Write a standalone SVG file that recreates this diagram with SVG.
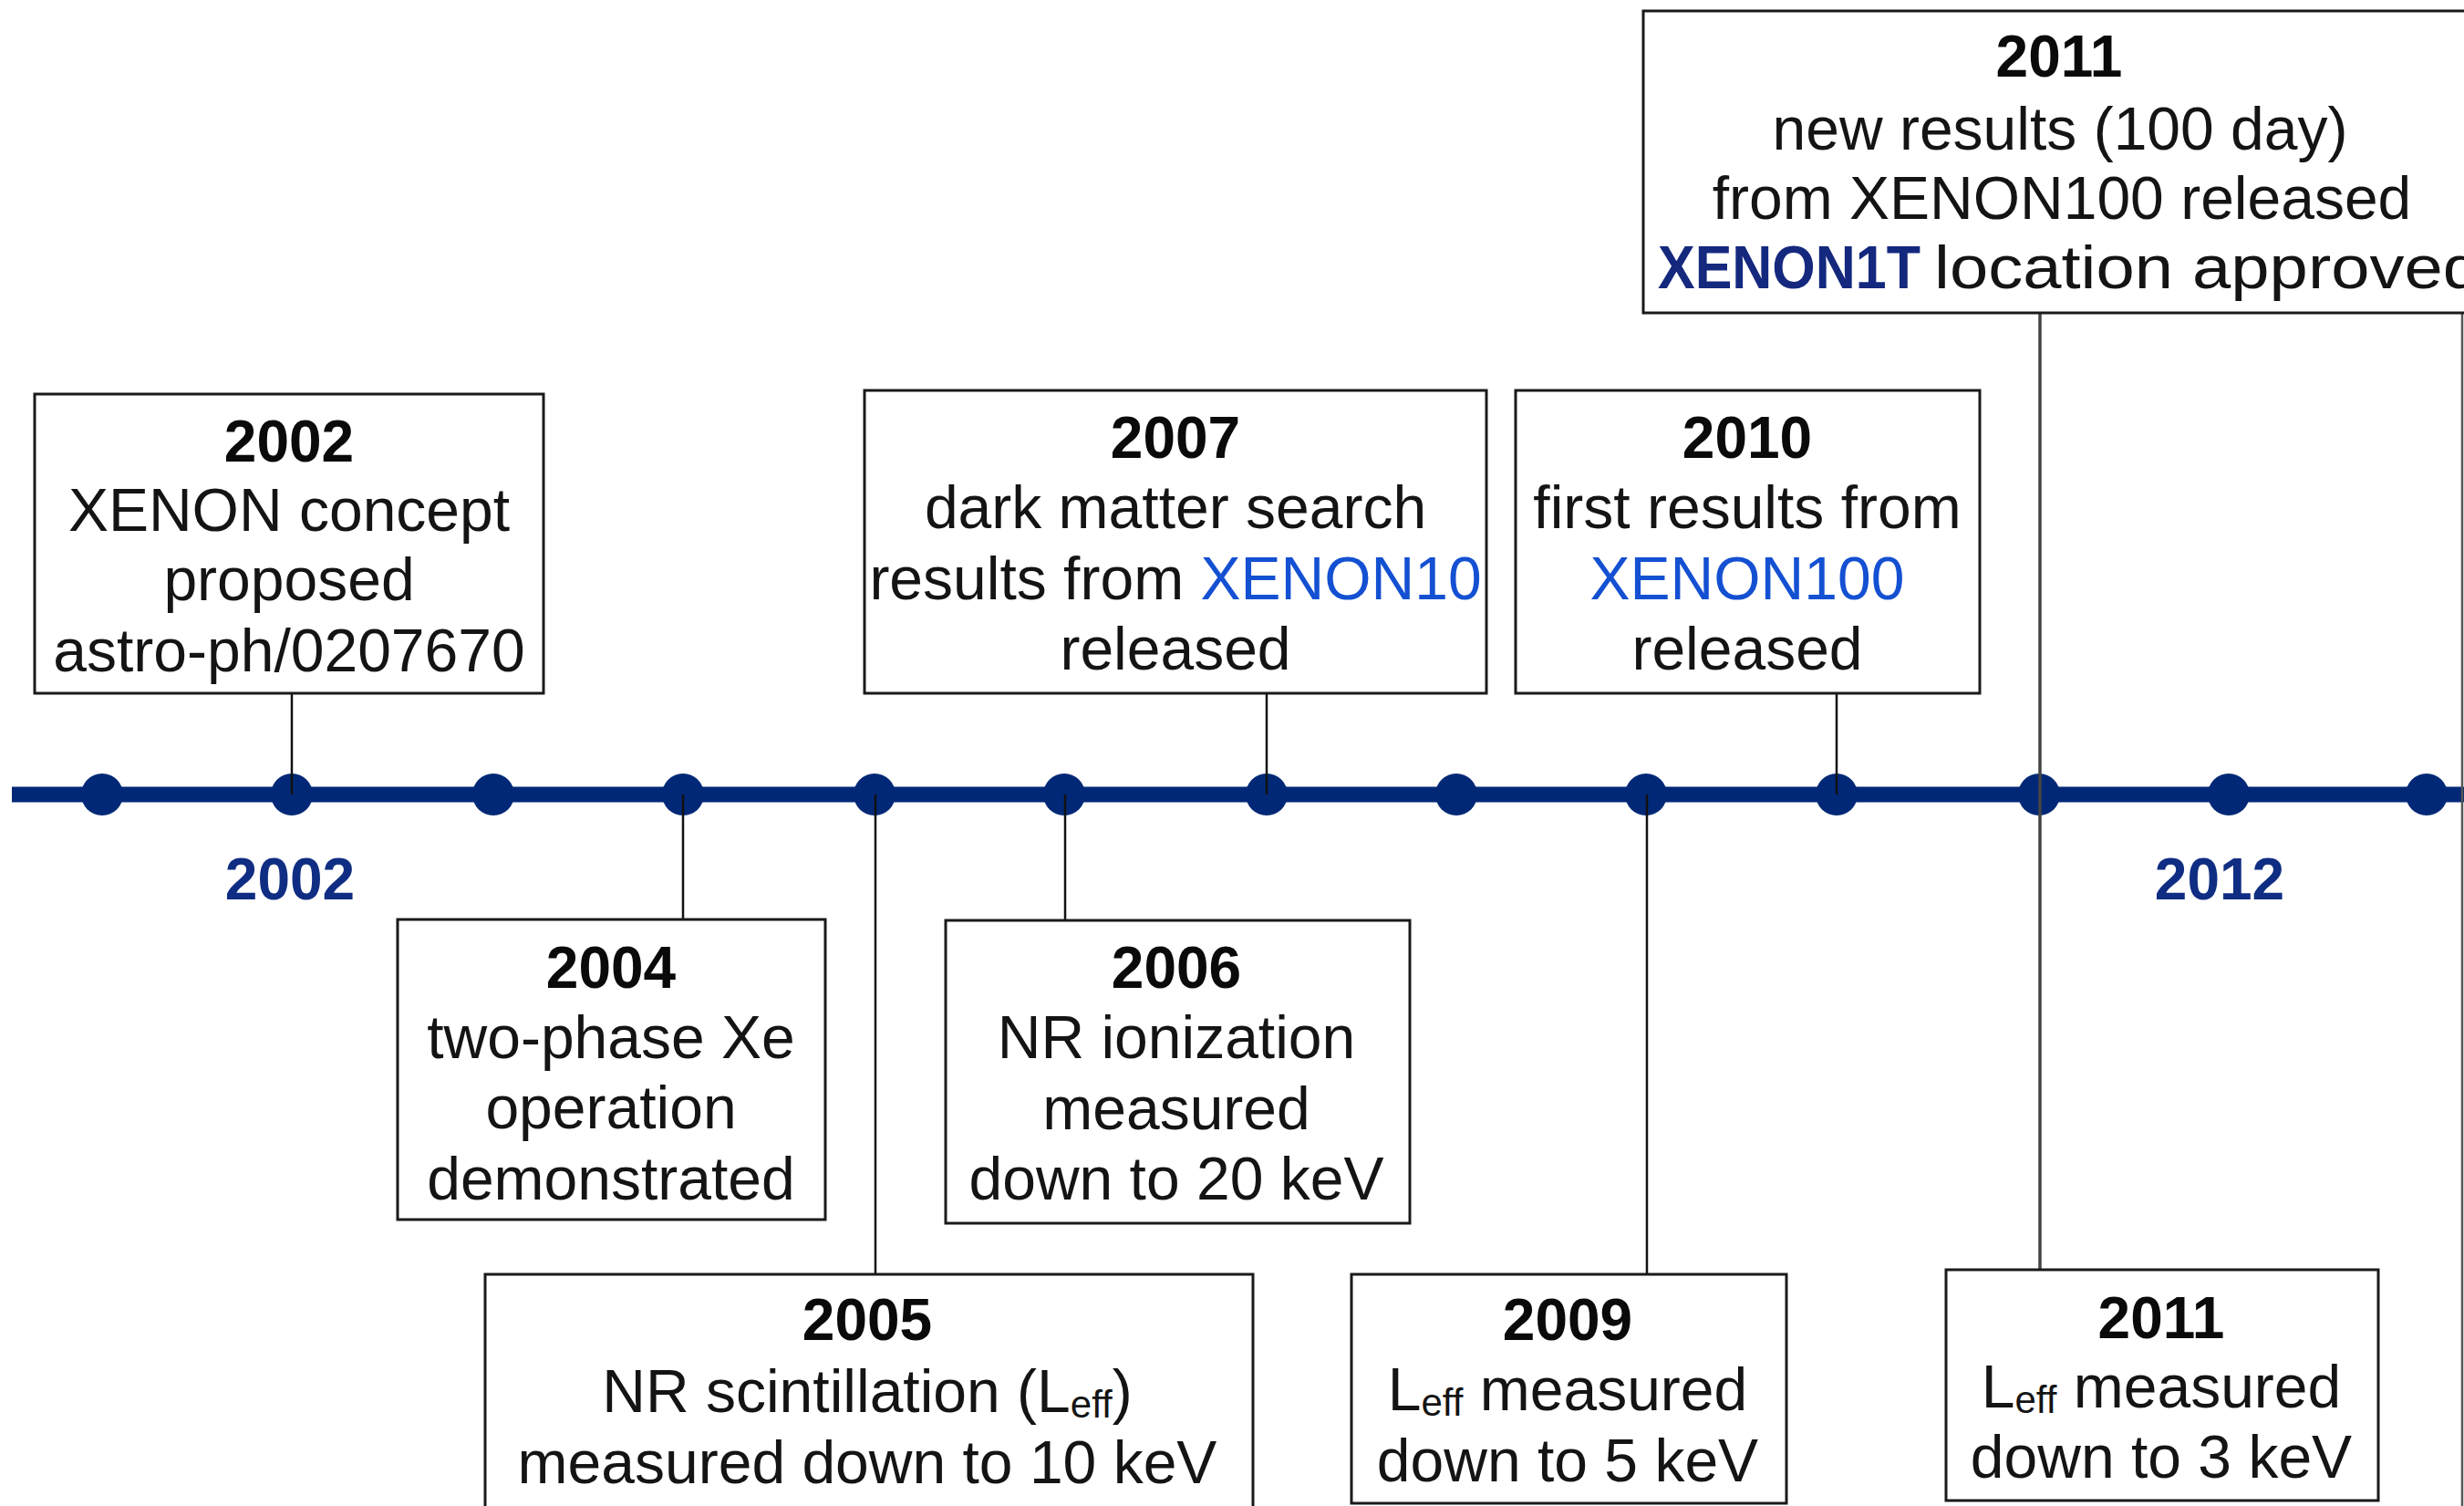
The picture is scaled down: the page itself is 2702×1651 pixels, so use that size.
<svg xmlns="http://www.w3.org/2000/svg" width="2702" height="1651" viewBox="0 0 2702 1651">
<style>
.box{fill:#fff;stroke:#1a1a1a;stroke-width:3}
.conn{stroke:#111;stroke-width:2.5;fill:none}
.yr{font-family:"Liberation Sans",Arial,sans-serif;font-weight:bold;font-size:64px;fill:#0a0a0a;text-anchor:middle}
.tx{font-family:"Liberation Sans",Arial,sans-serif;font-size:66px;fill:#141414;text-anchor:middle}
.blue{fill:#1450d2}
.navy{fill:#14287e;font-weight:bold}
.sub{font-size:42px}
.axis{font-family:"Liberation Sans",Arial,sans-serif;font-weight:bold;font-size:64px;fill:#0f2d82;text-anchor:middle}
.dot{fill:#002876}
</style>
<rect width="2702" height="1651" fill="#fff"/>
<g id="timeline">
<line x1="13" y1="871" x2="2702" y2="871" stroke="#002876" stroke-width="17"/>
<circle class="dot" cx="112" cy="871" r="23"/>
<circle class="dot" cx="320" cy="871" r="23"/>
<circle class="dot" cx="541" cy="871" r="23"/>
<circle class="dot" cx="749" cy="871" r="23"/>
<circle class="dot" cx="959" cy="871" r="23"/>
<circle class="dot" cx="1167" cy="871" r="23"/>
<circle class="dot" cx="1389" cy="871" r="23"/>
<circle class="dot" cx="1597" cy="871" r="23"/>
<circle class="dot" cx="1805" cy="871" r="23"/>
<circle class="dot" cx="2014" cy="871" r="23"/>
<circle class="dot" cx="2236" cy="871" r="23"/>
<circle class="dot" cx="2444" cy="871" r="23"/>
<circle class="dot" cx="2661" cy="871" r="23"/>
<text class="axis" x="318" y="986">2002</text>
<text class="axis" x="2434" y="986">2012</text>
</g>
<g id="connectors">
<line class="conn" x1="320" y1="760" x2="320" y2="871"/>
<line class="conn" x1="749" y1="871" x2="749" y2="1008"/>
<line class="conn" x1="960" y1="871" x2="960" y2="1397"/>
<line class="conn" x1="1168" y1="871" x2="1168" y2="1009"/>
<line class="conn" x1="1389" y1="760" x2="1389" y2="871"/>
<line class="conn" x1="1806" y1="871" x2="1806" y2="1397"/>
<line class="conn" x1="2014" y1="760" x2="2014" y2="871"/>
<line x1="2237" y1="343" x2="2237" y2="1392" stroke="#444" stroke-width="3.5"/>
<line x1="2700" y1="12" x2="2700" y2="1651" stroke="#555" stroke-width="2.5"/>
</g>
<g id="n2002">
<rect class="box" x="38" y="432" width="558" height="328"/>
<text class="yr" x="317" y="506">2002</text>
<text class="tx" x="317" y="582">XENON concept</text>
<text class="tx" x="317" y="658">proposed</text>
<text class="tx" x="317" y="736">astro-ph/0207670</text>
</g>
<g id="n2007">
<rect class="box" x="948" y="428" width="682" height="332"/>
<text class="yr" x="1289" y="502">2007</text>
<text class="tx" x="1289" y="579">dark matter search</text>
<text class="tx" x="1289" y="657">results from <tspan class="blue">XENON10</tspan></text>
<text class="tx" x="1289" y="734">released</text>
</g>
<g id="n2010">
<rect class="box" x="1662" y="428" width="509" height="332"/>
<text class="yr" x="1916" y="502">2010</text>
<text class="tx" x="1916" y="579">first results from</text>
<text class="tx" x="1916" y="657"><tspan class="blue">XENON100</tspan></text>
<text class="tx" x="1916" y="734">released</text>
</g>
<g id="n2011a">
<rect class="box" x="1802" y="12" width="910" height="331"/>
<text class="yr" x="2258" y="84">2011</text>
<text class="tx" x="2259" y="164">new results (100 day)</text>
<text class="tx" x="2261" y="240">from XENON100 released</text>
<text class="tx navy" x="1818" y="316" style="text-anchor:start" textLength="288" lengthAdjust="spacingAndGlyphs">XENON1T</text>
<text class="tx" x="2121" y="316" style="text-anchor:start" textLength="600" lengthAdjust="spacingAndGlyphs">location approved</text>
</g>
<g id="n2004">
<rect class="box" x="436" y="1008" width="469" height="329"/>
<text class="yr" x="670" y="1083">2004</text>
<text class="tx" x="670" y="1160">two-phase Xe</text>
<text class="tx" x="670" y="1237">operation</text>
<text class="tx" x="670" y="1315">demonstrated</text>
</g>
<g id="n2006">
<rect class="box" x="1037" y="1009" width="509" height="332"/>
<text class="yr" x="1290" y="1083">2006</text>
<text class="tx" x="1290" y="1160">NR ionization</text>
<text class="tx" x="1290" y="1238">measured</text>
<text class="tx" x="1290" y="1315">down to 20 keV</text>
</g>
<g id="n2005">
<rect class="box" x="532" y="1397" width="842" height="270"/>
<text class="yr" x="951" y="1469">2005</text>
<text class="tx" x="951" y="1548">NR scintillation (L<tspan class="sub" dy="6">eff</tspan><tspan dy="-6">)</tspan></text>
<text class="tx" x="951" y="1626">measured down to 10 keV</text>
</g>
<g id="n2009">
<rect class="box" x="1482" y="1397" width="477" height="251"/>
<text class="yr" x="1719" y="1469">2009</text>
<text class="tx" x="1719" y="1546">L<tspan class="sub" dy="6">eff</tspan><tspan dy="-6"> measured</tspan></text>
<text class="tx" x="1719" y="1624">down to 5 keV</text>
</g>
<g id="n2011b">
<rect class="box" x="2134" y="1392" width="474" height="253"/>
<text class="yr" x="2370" y="1467">2011</text>
<text class="tx" x="2370" y="1543">L<tspan class="sub" dy="6">eff</tspan><tspan dy="-6"> measured</tspan></text>
<text class="tx" x="2370" y="1620">down to 3 keV</text>
</g>
</svg>
